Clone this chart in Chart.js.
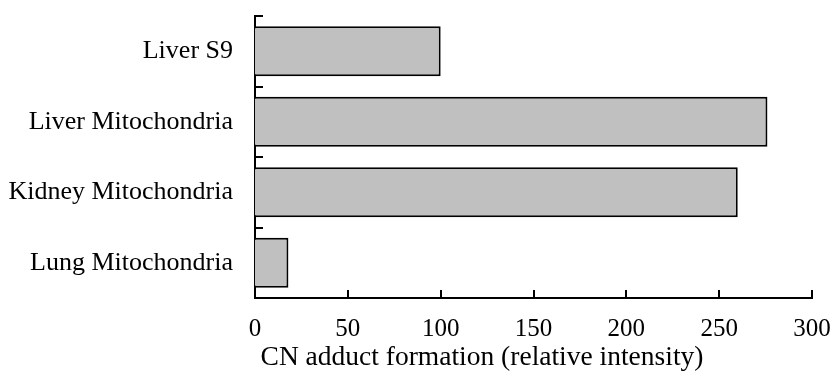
<!DOCTYPE html>
<html>
<head>
<meta charset="utf-8">
<script src="https://cdn.jsdelivr.net/npm/chart.js@4"></script>
<style>
  html, body { margin: 0; padding: 0; background: #fff; }
  #wrap { width: 831px; height: 378px; }
</style>
</head>
<body>
<div id="wrap"><canvas id="grafik" width="831" height="378"></canvas></div>
<script>
var kategoriler = ["Liver S9", "Liver Mitochondria", "Kidney Mitochondria", "Lung Mitochondria"];
var degerler = [100, 276, 260, 18];
var xTikler = [0, 50, 100, 150, 200, 250, 300];
var xBaslik = "CN adduct formation (relative intensity)";

var yazi = "'Liberation Serif', 'Times New Roman', serif";

// ic tarafa dogru tik cizgileri + eksen basligi
var tikEklentisi = {
    id: "tikler",
    afterDraw: function(chart) {
        var ctx = chart.ctx;
        var x = chart.scales.x, y = chart.scales.y;
        ctx.save();
        ctx.strokeStyle = "#000";
        ctx.lineWidth = 2;
        var n = kategoriler.length;
        for (let i = 0; i < n; i++) {
            var py = Math.round(y.top + i * (y.height / n));
            ctx.beginPath();
            ctx.moveTo(x.left, py);
            ctx.lineTo(x.left + 8, py);
            ctx.stroke();
        }
        for (let i = 0; i < xTikler.length; i++) {
            var px = Math.round(x.getPixelForValue(xTikler[i]));
            ctx.beginPath();
            ctx.moveTo(px, y.bottom);
            ctx.lineTo(px, y.bottom - 8);
            ctx.stroke();
        }
        ctx.fillStyle = "#000";
        ctx.font = "27.5px " + yazi;
        ctx.textAlign = "center";
        ctx.textBaseline = "middle";
        ctx.fillText(xBaslik, 482, 358);
        ctx.restore();
    }
};

var grafik = new Chart(document.getElementById("grafik").getContext("2d"), {
    type: "bar",
    data: {
        labels: kategoriler,
        datasets: [{
            data: degerler,
            backgroundColor: "#c0c0c0",
            borderColor: "#000",
            borderWidth: 2,
            barPercentage: 0.71,
            categoryPercentage: 1
        }]
    },
    options: {
        indexAxis: "y",
        responsive: false,
        animation: false,
        layout: { padding: { top: 16, right: 19, left: 0, bottom: 0 } },
        plugins: { legend: { display: false }, tooltip: { enabled: false } },
        scales: {
            x: {
                min: 0, max: 300,
                afterBuildTicks: function(s) { s.ticks = xTikler.map(function(v) { return { value: v }; }); },
                afterFit: function(s) { s.height = 80; s.paddingLeft = 0; s.paddingRight = 0; },
                grid: { display: false, drawTicks: false },
                border: { color: "#000", width: 2 },
                ticks: { color: "#000", font: { family: yazi, size: 25 }, padding: 16, maxRotation: 0 }
            },
            y: {
                afterFit: function(s) { s.width = 255; s.paddingTop = 0; s.paddingBottom = 0; },
                grid: { display: false, drawTicks: false },
                border: { color: "#000", width: 2 },
                ticks: { color: "#000", font: { family: yazi, size: 26 }, padding: 22 }
            }
        }
    },
    plugins: [tikEklentisi]
});
</script>
</body>
</html>
